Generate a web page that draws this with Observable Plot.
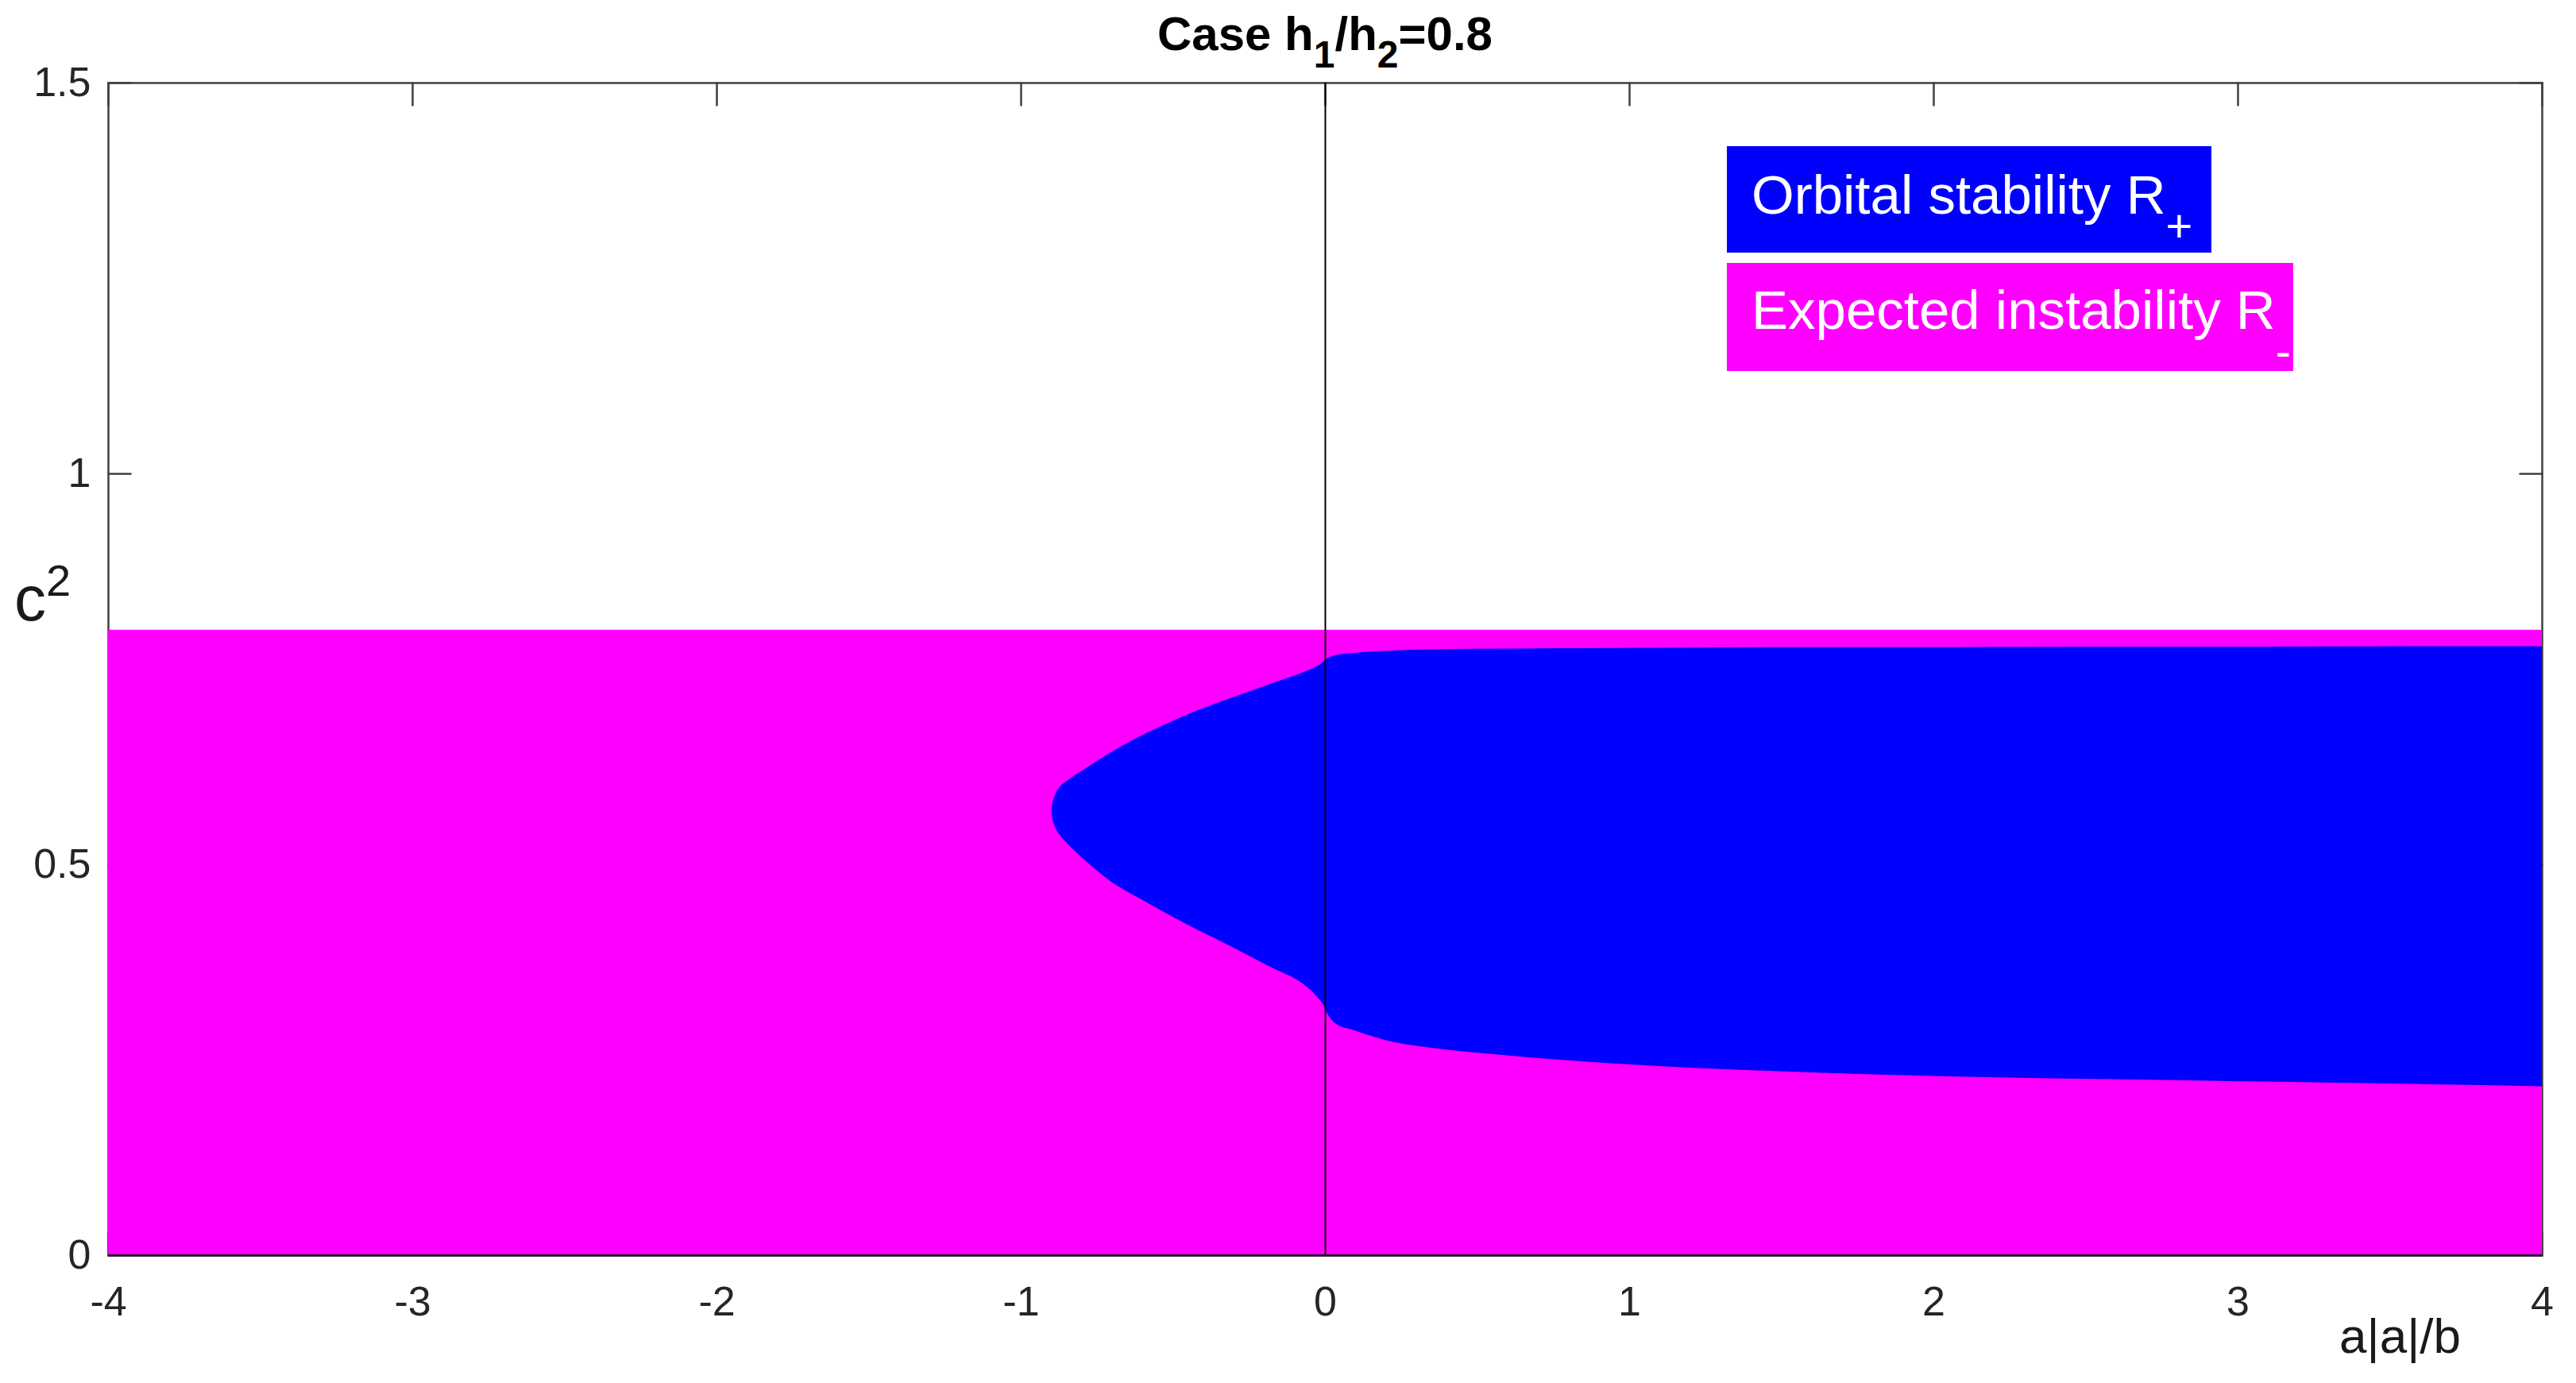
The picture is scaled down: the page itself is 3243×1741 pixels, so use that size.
<!DOCTYPE html>
<html>
<head>
<meta charset="utf-8">
<script src="https://cdn.jsdelivr.net/npm/d3@7"></script>
<script src="https://cdn.jsdelivr.net/npm/@observablehq/plot@0.6"></script>
<style>
  html, body { margin: 0; padding: 0; background: #fff; }
  #wrap { position: relative; width: 3243px; height: 1741px; font-family: "Liberation Sans", Arial, Helvetica, sans-serif; }
  #wrap svg { position: absolute; left: 0; top: 0; }
  .ovl { position: absolute; white-space: nowrap; line-height: 1; color: #000; }
  #title { left: 136px; width: 3064px; top: 13px; text-align: center; font-weight: bold; font-size: 60px; }
  #title sub { font-size: 0.8em; vertical-align: -22px; line-height: 0; }
  #xlabel { right: 145px; top: 1651px; font-size: 62px; color: #1a1a1a; }
  #ylabel { left: 18px; top: 714px; font-size: 80px; color: #1a1a1a; }
  #ylabel sup { font-size: 0.7em; vertical-align: 31px; line-height: 0; }
  .lg { position: absolute; }
  .lg span.t { position: absolute; left: 31px; color: #fff; font-size: 69px; line-height: 1; white-space: nowrap; }
  .lg sub { font-size: 0.84em; line-height: 0; }
</style>
</head>
<body>
<div id="wrap"></div>
<script>
// ---------- data ----------
const xTicks = [-4, -3, -2, -1, 0, 1, 2, 3, 4];
const xTickLabels = ["-4", "-3", "-2", "-1", "0", "1", "2", "3", "4"];
const yTicks = [0, 0.5, 1, 1.5];
const yTickLabels = ["0", "0.5", "1", "1.5"];
const xDomain = [-4, 4];
const yDomain = [0, 1.5];

// Expected instability region R- (a|a|/b range, c^2 range)
const instabilityX = [-4, 4];
const instabilityC2 = [0, 0.8];

// Orbital stability region R+, part with a|a|/b >= 0 (lower/upper c^2 boundary)
const stableRightX     = [0, 0.014, 0.04, 0.084, 0.2, 0.334, 0.584, 1.083, 1.583, 2.083, 2.583, 3.082, 3.583, 4];
const stableRightLower = [0.315, 0.305, 0.295, 0.289, 0.275, 0.266, 0.256, 0.242, 0.234, 0.2285, 0.225, 0.222, 0.219, 0.216];
const stableRightUpper = [0.762, 0.765, 0.768, 0.770, 0.773, 0.775, 0.776, 0.777, 0.778, 0.778, 0.7785, 0.7785, 0.779, 0.779];

// Orbital stability region R+, lobe with a|a|/b < 0: left edge a|a|/b for each c^2
const stableLeftC2   = [0.315, 0.322, 0.330, 0.340, 0.352, 0.369, 0.386, 0.403, 0.420, 0.438, 0.457, 0.477, 0.504, 0.520, 0.538, 0.552, 0.569, 0.585, 0.598, 0.612, 0.623, 0.644, 0.663, 0.679, 0.694, 0.707, 0.719, 0.731, 0.743, 0.750, 0.756, 0.762];
const stableLeftEdge = [0, -0.008, -0.025, -0.05, -0.09, -0.18, -0.264, -0.35, -0.438, -0.525, -0.612, -0.70, -0.786, -0.83, -0.873, -0.892, -0.899, -0.891, -0.874, -0.83, -0.786, -0.70, -0.612, -0.525, -0.438, -0.35, -0.264, -0.18, -0.09, -0.045, -0.015, 0];

const legendLabels = ["Orbital stability R", "Expected instability R"];
const legendSubs = ["+", "-"];

// ---------- build tables ----------
const magenta = "#ff00ff";
const blue = "#0000ff";
const axisColor = "#404040";

const instabilityRect = [{x1: instabilityX[0], x2: instabilityX[1], y1: instabilityC2[0], y2: instabilityC2[1]}];
const right = stableRightX.map((x, i) => ({x, lo: stableRightLower[i], hi: stableRightUpper[i]}));
const left = stableLeftC2.map((y, i) => ({y, edge: stableLeftEdge[i], axis: 0}));

const tickShape = {draw(context, l) { context.moveTo(0, 0); context.lineTo(0, -l); }};
const tickLen = 28;

const chart = Plot.plot({
  width: 3243,
  height: 1741,
  marginLeft: 136,
  marginRight: 43,
  marginTop: 104,
  marginBottom: 161,
  style: {fontFamily: "'Liberation Sans', Arial, Helvetica, sans-serif", background: "transparent", overflow: "visible"},
  x: {domain: xDomain},
  y: {domain: yDomain},
  marks: [
    Plot.frame({stroke: axisColor, strokeWidth: 2.5}),
    // inward ticks (drawn under the data, like MATLAB)
    Plot.vector(xTicks, {x: d => d, frameAnchor: "bottom", rotate: 0, length: tickLen, anchor: "start", shape: tickShape, stroke: axisColor, strokeWidth: 2.5}),
    Plot.vector(xTicks, {x: d => d, frameAnchor: "top", rotate: 180, length: tickLen, anchor: "start", shape: tickShape, stroke: axisColor, strokeWidth: 2.5}),
    Plot.vector(yTicks, {y: d => d, frameAnchor: "left", rotate: 90, length: tickLen, anchor: "start", shape: tickShape, stroke: axisColor, strokeWidth: 2.5}),
    Plot.vector(yTicks, {y: d => d, frameAnchor: "right", rotate: -90, length: tickLen, anchor: "start", shape: tickShape, stroke: axisColor, strokeWidth: 2.5}),
    // regions
    Plot.rect(instabilityRect, {x1: "x1", x2: "x2", y1: "y1", y2: "y2", fill: magenta}),
    Plot.areaY(right, {x: "x", y1: "lo", y2: "hi", fill: blue, curve: "monotone-x"}),
    Plot.areaX(left, {y: "y", x1: "edge", x2: "axis", fill: blue, curve: "catmull-rom"}),
    Plot.ruleX([0], {stroke: "#000", strokeWidth: 2}),
    Plot.ruleY([0], {stroke: "#2a1a2a", strokeWidth: 3}),
    Plot.axisX(xTicks, {anchor: "bottom", tickSize: 0, tickPadding: 39, fontSize: 52, fill: "#262626", label: null, tickFormat: (d, i) => xTickLabels[i]}),
    Plot.axisY(yTicks, {anchor: "left", tickSize: 0, tickPadding: 22, fontSize: 52, fill: "#262626", label: null, tickFormat: (d, i) => yTickLabels[i]})
  ]
});

const wrap = document.getElementById("wrap");
wrap.appendChild(chart);

function addDiv(id, html) {
  const d = document.createElement("div");
  d.className = "ovl";
  d.id = id;
  d.innerHTML = html;
  wrap.appendChild(d);
  return d;
}
addDiv("title", "Case h<sub>1</sub>/h<sub>2</sub>=0.8");
addDiv("xlabel", "a|a|/b");
addDiv("ylabel", "c<sup>2</sup>");

// legend boxes
const legendBoxes = [
  {bg: blue, left: 2174, top: 184, w: 610, h: 134, tTop: 27, subDrop: "-35px"},
  {bg: magenta, left: 2174, top: 331, w: 713, h: 136, tTop: 25, subDrop: "-48px"}
];
legendBoxes.forEach((b, i) => {
  const d = document.createElement("div");
  d.className = "lg";
  Object.assign(d.style, {left: b.left + "px", top: b.top + "px", width: b.w + "px", height: b.h + "px", background: b.bg});
  const s = document.createElement("span");
  s.className = "t";
  s.style.top = b.tTop + "px";
  s.innerHTML = legendLabels[i] + `<sub style="vertical-align:${b.subDrop}">${legendSubs[i]}</sub>`;
  d.appendChild(s);
  wrap.appendChild(d);
});
</script>
</body>
</html>
